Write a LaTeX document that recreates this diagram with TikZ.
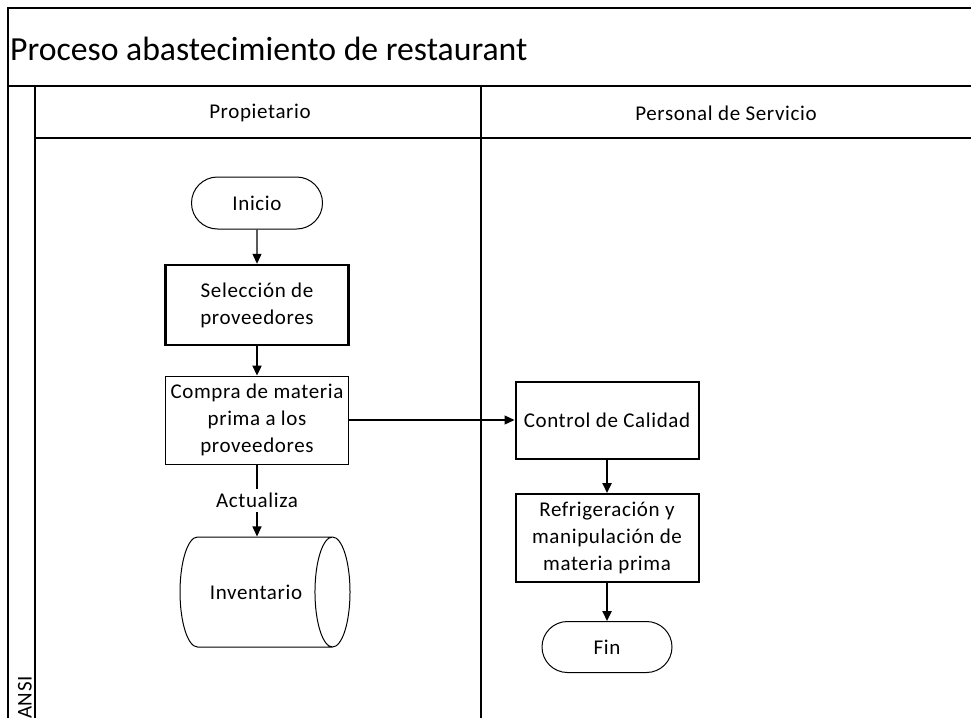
\documentclass[tikz,border=0pt]{standalone}
\usepackage{fontspec}
\setmainfont{Carlito}[LetterSpace=3]
\newfontfamily\titlefont{Carlito}
\usetikzlibrary{arrows.meta,shapes.misc,shapes.geometric}

\begin{document}
\begin{tikzpicture}[x=1pt, y=-1pt, >={Triangle[length=10pt,width=9pt]},
	every node/.style={font=\fontsize{21}{27}\selectfont, align=center, inner sep=0pt},
	proc/.style={draw, line width=1pt, minimum width=183pt, minimum height=80pt},
	term/.style={draw, rounded rectangle, line width=1pt, minimum width=131pt, minimum height=52pt},
	lane/.style={line width=1.2pt}]
	\useasboundingbox (0,0) rectangle (971,717);
	\clip (0,0) rectangle (971,717);
	% pool and lanes
	\draw[lane] (975,8) -- (8,8) -- (8,720);
	\draw[lane] (8,86) -- (975,86);
	\draw[lane] (35,86) -- (35,720);
	\draw[lane] (35,138) -- (975,138);
	\draw[lane] (481,86) -- (481,720);
	\node[anchor=west, font=\titlefont\fontsize{33.7}{40}\selectfont] (titulo) at (10,49) {Proceso abastecimiento de restaurant};
	\node (propietario) at (260,113) {Propietario};
	\node (personal) at (726,113) {Personal de Servicio};
	\node[rotate=90, anchor=west] (ansi) at (25,719) {ANSI};
	% Propietario
	\node[term] (inicio) at (257,203) {Inicio};
	\node[proc, line width=2.4pt] (seleccion) at (257,305) {Selección de\\proveedores};
	\node[proc, minimum height=88pt] (compra) at (257,420) {Compra de materia\\prima a los\\proveedores};
	\node[draw, cylinder, aspect=2.4, line width=1pt, minimum height=170pt, minimum width=110pt] (inventario) at (256,592) {Inventario};
	% Personal de Servicio
	\node[proc, line width=2pt, minimum height=77pt] (control) at (607,420) {Control de Calidad};
	\node[proc, line width=2pt, minimum height=88pt] (refrig) at (607,538) {Refrigeración y\\manipulación de\\materia prima};
	\node[term, minimum width=130pt, minimum height=51pt] (fin) at (607,647) {Fin};
	% connectors
	\draw[->, line width=1.2pt] (inicio) -- (seleccion);
	\draw[->, line width=2.3pt] (seleccion) -- (compra);
	\draw[->, line width=1.2pt] (compra.south) -- (compra.south |- inventario.north)
		node[midway, fill=white, inner xsep=2pt, inner ysep=4pt] (actualiza) {Actualiza};
	\draw[->, line width=1.2pt] (compra) -- (control);
	\draw[->, line width=2.3pt] (control) -- (refrig);
	\draw[->, line width=2.3pt] (refrig) -- (fin);
\end{tikzpicture}
\end{document}
